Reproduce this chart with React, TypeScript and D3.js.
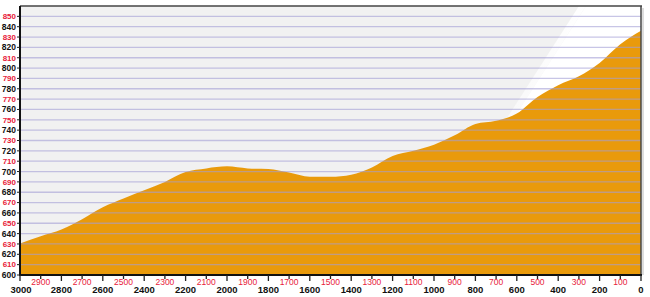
import React from "react";
import * as d3 from "d3";

const distances = [3000, 2900, 2800, 2700, 2600, 2500, 2400, 2300, 2200, 2100, 2000, 1900, 1800, 1700, 1600, 1500, 1400, 1300, 1200, 1100, 1000, 900, 800, 700, 600, 500, 400, 300, 200, 100, 0];
const elevations = [630.5, 637.5, 644, 654, 665.5, 674, 682, 690, 699.5, 703, 705, 703, 702.5, 699, 695, 695, 697, 704, 715, 720, 726, 735, 746, 749, 756, 772, 783.5, 792, 805, 823, 836];
const yTicks = d3.range(600, 851, 10);
const xTicks = d3.range(0, 3001, 100);

const W = 650, H = 297;
const L = 20, R = 641, T = 6, B = 275;

export default function App() {
  const x = d3.scaleLinear().domain([3000, 0]).range([L, R]);
  const y = d3.scaleLinear().domain([600, 860]).range([B, T]);
  const pts = distances.map((d, i) => [d, elevations[i]] as [number, number]);
  const area = d3
    .area<[number, number]>()
    .x((p) => x(p[0]))
    .y0(B)
    .y1((p) => y(p[1]))
    .curve(d3.curveMonotoneX)(pts) as string;

  const red = "#e8203a";
  return (
    <svg width={W} height={H} style={{ display: "block", position: "absolute", left: 0, top: 0 }} fontFamily="'Liberation Sans', Arial, sans-serif">
      <defs>
        <linearGradient id="gloss" x1="0" y1="0" x2="1" y2="0">
          <stop offset="0" stopColor="#ffffff" stopOpacity="0" />
          <stop offset="1" stopColor="#ffffff" stopOpacity="1" />
        </linearGradient>
        <clipPath id="plot">
          <rect x={L} y={T} width={R - L} height={B - T} />
        </clipPath>
      </defs>
      <rect x={0} y={0} width={W} height={H} fill="#ffffff" />
      <rect x={L} y={T} width={R - L} height={B - T} fill="#f1f1f1" />
      <g clipPath="url(#plot)">
        <polygon points={`${586},${T} ${R},${T} ${R},${B} ${413},${B}`} fill="#ffffff" />
        <polygon points={`${579},${T} ${586},${T} ${413},${B} ${406},${B}`} fill="url(#gloss)" />
        <path d={area} fill="#e99a0b" />
        {yTicks.filter((v) => v > 600).map((v) => (
          <line key={v} x1={L} x2={R} y1={y(v)} y2={y(v)} stroke="#a49ed6" strokeOpacity={0.6} strokeWidth={1.3} />
        ))}
      </g>
      {/* frame */}
      <line x1={L} x2={R + 1} y1={T} y2={T} stroke="#444" strokeWidth={1.5} />
      <line x1={R} x2={R} y1={T} y2={B} stroke="#444" strokeWidth={1.5} />
      <line x1={R + 2} x2={R + 2} y1={T + 2} y2={B} stroke="#bbb" strokeWidth={1} />
      <line x1={L} x2={L} y1={T} y2={B + 1} stroke="#111" strokeWidth={2} />
      <line x1={L - 1} x2={R + 1} y1={B} y2={B} stroke="#111" strokeWidth={2} />
      {/* y axis */}
      {yTicks.map((v) => {
        const major = v % 20 === 0;
        return (
          <g key={v}>
            <line x1={L - 3} x2={L} y1={y(v)} y2={y(v)} stroke="#222" strokeWidth={1} />
            <text x={L - 4} y={y(v)} dy="0.35em" textAnchor="end" fontSize={major ? 8.5 : 8} fontWeight="bold" fill={major ? "#111" : red}>
              {v}
            </text>
          </g>
        );
      })}
      {/* x axis */}
      {xTicks.map((d) => {
        const major = d % 200 === 0;
        return (
          <g key={d}>
            <line x1={x(d)} x2={x(d)} y1={B} y2={B + (major ? 6 : 4)} stroke="#222" strokeWidth={1.3} />
            <text x={d === 3000 ? x(d) + 1 : x(d)} y={major ? 293 : 285} textAnchor="middle" fontSize={major ? 9.5 : 8.5} fontWeight={major ? "bold" : "normal"} fill={major ? "#111" : red}>
              {d}
            </text>
          </g>
        );
      })}
    </svg>
  );
}
